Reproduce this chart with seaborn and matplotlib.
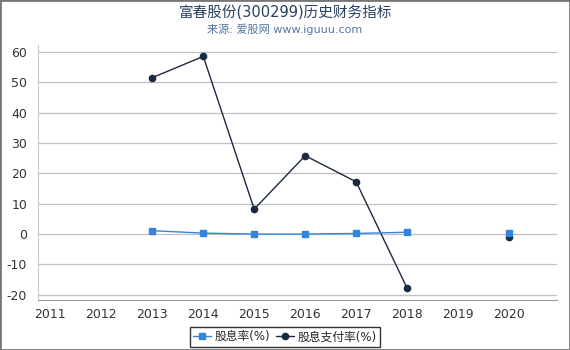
import numpy as np
import pandas as pd
import matplotlib
matplotlib.use("Agg")
import matplotlib.pyplot as plt
import seaborn as sns

years = [2013, 2014, 2015, 2016, 2017, 2018, 2019, 2020]
dividend_yield = [1.1, 0.3, 0.0, 0.0, 0.2, 0.6, np.nan, 0.2]
payout_ratio = [51.5, 58.5, 8.2, 25.8, 17.2, -17.8, np.nan, -1.0]
xticks = list(range(2011, 2021))

sns.set_style("white")
plt.rcParams['font.family'] = ['DejaVu Sans', 'Noto Sans CJK SC']
plt.rcParams['axes.unicode_minus'] = False

df = pd.DataFrame({"year": years, "股息率(%)": dividend_yield, "股息支付率(%)": payout_ratio})

fig = plt.figure(figsize=(5.7, 3.5), dpi=100)
ax = fig.add_axes([0.067, 0.143, 0.91, 0.728])

ax.plot(df["year"], df["股息率(%)"], color="#3385dc", marker="s", markersize=4.5,
        linewidth=1, label="股息率(%)", zorder=3)
ax.plot(df["year"], df["股息支付率(%)"], color="#1a2a40", marker="o", markersize=4.5,
        linewidth=1, label="股息支付率(%)", zorder=2)

ax.set_xlim(2010.76, 2020.94)
ax.set_ylim(-21.7, 62.2)
ax.set_xticks(xticks)
ax.set_yticks(range(-20, 61, 10))
ax.yaxis.grid(True, color="#c0c0c0", linewidth=0.9)
ax.tick_params(axis="x", length=4, color="#999999", labelsize=9, labelcolor="#333333", pad=2)
ax.tick_params(axis="y", length=0, labelsize=9, labelcolor="#333333", pad=8)
for s in ["top", "right"]:
    ax.spines[s].set_visible(False)
ax.spines["left"].set_color("#cccccc")
ax.spines["bottom"].set_color("#999999")

fig.text(0.5, 0.962, "富春股份(300299)历史财务指标", ha="center", va="center",
         fontsize=10.5, color="#2a3f5f")
fig.text(0.5, 0.916, "来源: 爱股网 www.iguuu.com", ha="center", va="center",
         fontsize=8, color="#5577a0")

leg = fig.legend(loc="center", bbox_to_anchor=(0.5, 0.038), ncol=2, fontsize=8.5,
                 frameon=True, fancybox=False, edgecolor="black", handlelength=1.5,
                 handletextpad=0.3, columnspacing=0.5, borderpad=0.3)
leg.get_frame().set_linewidth(1)

fig.patches.append(plt.Rectangle((0, 0), 1, 1, transform=fig.transFigure,
                                 fill=False, edgecolor="#777777", linewidth=2))

fig.savefig("out.png", dpi=100)
